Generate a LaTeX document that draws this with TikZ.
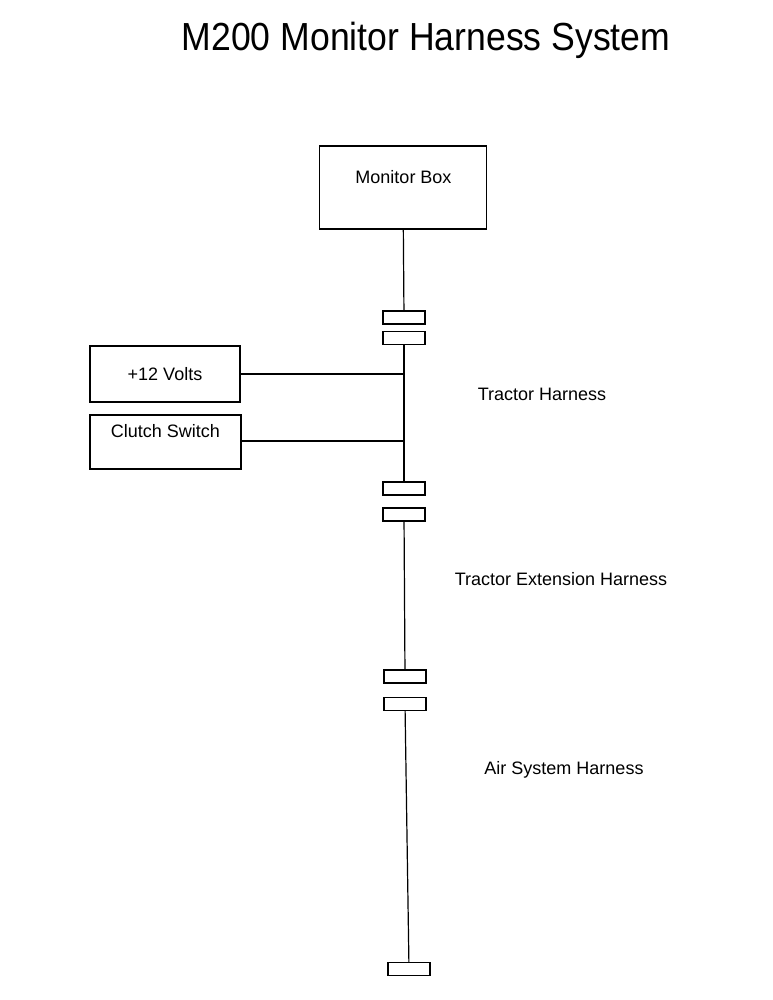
\documentclass[tikz,border=0pt]{standalone}
\usepackage{fontspec}
\setmainfont{Liberation Sans}
\tikzset{
  box/.style={draw,line width=1.2pt,inner sep=0pt,font=\fontsize{18}{21}\selectfont},
  plug/.style={draw,line width=1.2pt,minimum width=42pt,minimum height=13pt,inner sep=0pt},
  wire/.style={line width=1.2pt},
  lbl/.style={font=\fontsize{18}{21}\selectfont}
}
\begin{document}
\begin{tikzpicture}[x=1pt,y=-1pt]
            \useasboundingbox (0,0) rectangle (772,1000);
            \node[font=\fontsize{35.6}{40}\selectfont] (title) at (426,40) {\scalebox{1}[1.1]{M200 Monitor Harness System}};
            \node[box,minimum width=167pt,minimum height=83pt] (monitor) at (403,187.5) {};
            \node[lbl] at (403.5,177) {Monitor Box};
            \node[plug] (c1) at (404,317.5) {};
            \node[plug] (c2) at (404,338) {};
            \node[plug] (c3) at (404,488.5) {};
            \node[plug] (c4) at (404,514.5) {};
            \node[plug] (c5) at (405,676.5) {};
            \node[plug] (c6) at (405,704) {};
            \node[plug] (c7) at (409,969) {};
            \node[box,minimum width=150pt,minimum height=56pt] (volts) at (165,374) {+12 Volts};
            \node[box,minimum width=151pt,minimum height=54pt] (clutch) at (165.5,442) {};
            \node[lbl] at (165.5,431) {Clutch Switch};
            \coordinate (j1) at (404,374);
            \coordinate (j2) at (404,441);
            \draw[wire] (monitor) -- (c1);
            \draw[wire] (c2) -- (c3);
            \draw[wire] (c4) -- (c5);
            \draw[wire] (c6) -- (c7);
            \draw[wire] (volts.east) -- (j1);
            \draw[wire] (clutch.east |- j2) -- (j2);
            \node[lbl] (tractor) at (542,394) {Tractor Harness};
            \node[lbl] (extension) at (561,579) {Tractor Extension Harness};
            \node[lbl] (air) at (564,770) {Air System Harness};
        \end{tikzpicture}
\end{document}
